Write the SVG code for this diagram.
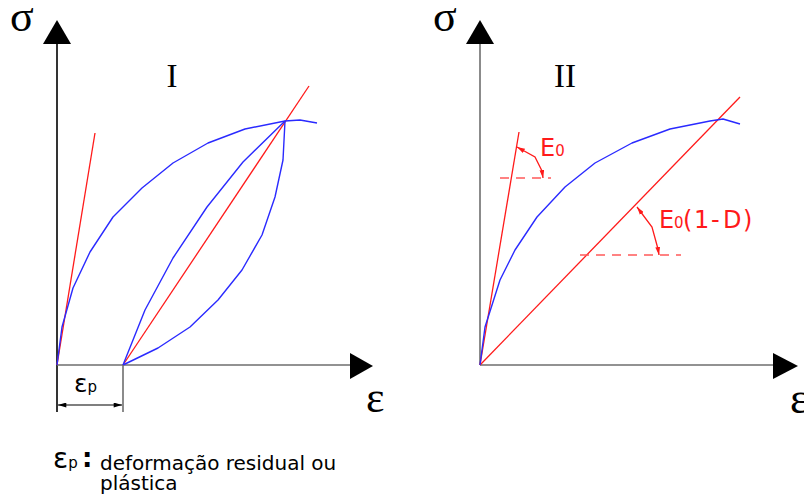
<svg xmlns="http://www.w3.org/2000/svg" width="804" height="497" viewBox="0 0 804 497">
<defs>
<style>
.axg{stroke:#6e6e6e;stroke-width:1.6;fill:none}
.axk{stroke:#000;stroke-width:1.6;fill:none}
.blue{stroke:#2a2aff;stroke-width:1.4;fill:none;stroke-linejoin:round}
.red{stroke:#ff1a1a;stroke-width:1.3;fill:none}
.dash{stroke:#ff5a5a;stroke-width:1.4;fill:none;stroke-dasharray:9 7}
.ann{stroke:#ff1a1a;stroke-width:1.3;fill:none;marker-start:url(#ra);marker-end:url(#ra)}
.serif{font-family:"Liberation Serif","DejaVu Serif",serif;fill:#000}
.sans{font-family:"DejaVu Sans","Liberation Sans",sans-serif;fill:#000}
.rt{font-family:"DejaVu Sans","Liberation Sans",sans-serif;fill:#ff1a1a}
</style>
<marker id="ra" viewBox="0 0 10 6" refX="10" refY="3" markerWidth="8" markerHeight="5" markerUnits="userSpaceOnUse" orient="auto-start-reverse">
<path d="M0,0 L10,3 L0,6 Z" fill="#ff1a1a"/>
</marker>
<marker id="da" viewBox="0 0 10 6" refX="10" refY="3" markerWidth="9" markerHeight="5" markerUnits="userSpaceOnUse" orient="auto-start-reverse">
<path d="M0,0 L10,3 L0,6 Z" fill="#000"/>
</marker>
</defs>
<rect width="804" height="497" fill="#fff"/>

<g id="chart1-axes">
<line class="axk" x1="57" y1="42" x2="57" y2="412"/>
<path d="M57,20 L71,44 L43,44 Z" fill="#000"/>
<line class="axg" x1="57" y1="365" x2="351" y2="365"/>
<path d="M373,366 L350,353 L350,379 Z" fill="#000"/>
<text class="serif" x="10" y="31" font-size="44">σ</text>
<text class="serif" x="366" y="412" font-size="44">ε</text>
<text class="serif" x="172" y="87" font-size="33" text-anchor="middle">I</text>
</g>

<g id="chart1-curves">
<line class="red" x1="57" y1="365" x2="95" y2="133"/>
<line class="red" x1="123" y1="365" x2="309" y2="86"/>
<polyline class="blue" points="57,365 62,327 73,288 90,252 113,217 142,188 173,163 208,143 245,129 285,121 300,120 317,123"/>
<polyline class="blue" points="285,121 283,160 275,197 262,235 242,270 218,300 190,327 158,348 123,365"/>
<polyline class="blue" points="123,365 145,310 173,258 207,207 243,162 285,121"/>
</g>

<g id="dimension-ep">
<line class="axg" x1="123" y1="365" x2="123" y2="412"/>
<line x1="58" y1="405" x2="122" y2="405" stroke="#000" stroke-width="1.2" marker-start="url(#da)" marker-end="url(#da)"/>
<text class="sans" x="74" y="392" font-size="25">ε<tspan font-size="15">p</tspan></text>
</g>

<g id="chart2-axes">
<line class="axg" x1="480" y1="42" x2="480" y2="365"/>
<path d="M480,20 L494,44 L466,44 Z" fill="#000"/>
<line class="axg" x1="480" y1="365" x2="774" y2="365"/>
<path d="M798,366 L773,353 L773,379 Z" fill="#000"/>
<text class="serif" x="433" y="31" font-size="44">σ</text>
<text class="serif" x="790" y="413" font-size="44">ε</text>
<text class="serif" x="565" y="87" font-size="33" text-anchor="middle">II</text>
</g>

<g id="chart2-curves">
<line class="red" x1="480" y1="365" x2="519" y2="132"/>
<line class="red" x1="480" y1="365" x2="740" y2="97"/>
<polyline class="blue" points="480,365 485,327 500,280 515,250 537,217 565,187 595,163 632,143 670,129 710,121 723,119 740,124"/>
</g>

<g id="angle-E0">
<line class="dash" x1="500" y1="178" x2="551" y2="178"/>
<polyline class="ann" points="517,147 535,157 542,171 543,178"/>
<text class="rt" x="540" y="156" font-size="24">E<tspan font-size="15">0</tspan></text>
</g>

<g id="angle-E0-1-D">
<line class="dash" x1="580" y1="255" x2="681" y2="255"/>
<polyline class="ann" points="637,207 652,227 658,249 659,255"/>
<text class="rt" y="228" font-size="24"><tspan x="659">E</tspan><tspan x="674" font-size="15">0</tspan><tspan x="683">(</tspan><tspan x="694">1</tspan><tspan x="711">-</tspan><tspan x="723">D</tspan><tspan x="743">)</tspan></text>
</g>

<g id="legend">
<text class="sans" x="53" y="468" font-size="28">ε<tspan font-size="15">p</tspan></text>
<text class="sans" x="82" y="467" font-size="26" font-weight="bold">:</text>
<text class="sans" x="100" y="470" font-size="20">deformação residual ou</text>
<text class="sans" x="100" y="490" font-size="20">plástica</text>
</g>
</svg>
